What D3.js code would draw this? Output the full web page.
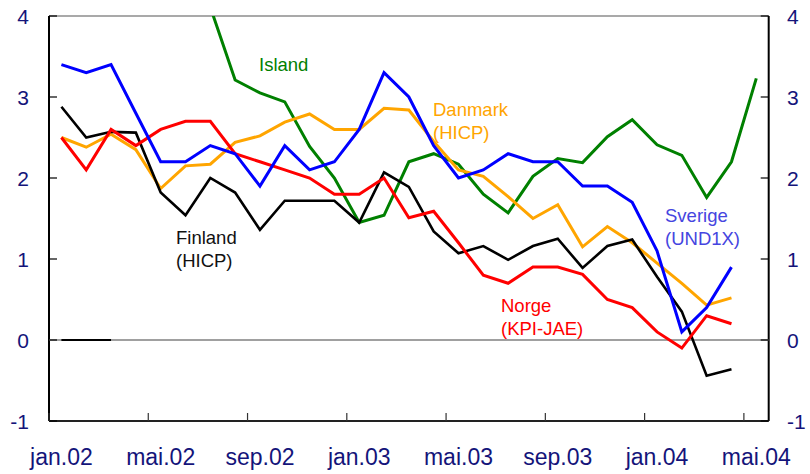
<!DOCTYPE html>
<html>
<head>
<meta charset="utf-8">
<script src="https://cdn.jsdelivr.net/npm/d3@7"></script>
<style>
  body { margin: 0; background: #fff; }
  svg { display: block; }
  text { font-family: "Liberation Sans", Arial, sans-serif; }
</style>
</head>
<body>
<div id="chart"></div>
<script>
// months, jan.02 .. mai.04
var months = ["jan.02","feb.02","mar.02","apr.02","mai.02","jun.02","jul.02","aug.02","sep.02","okt.02","nov.02","des.02",
  "jan.03","feb.03","mar.03","apr.03","mai.03","jun.03","jul.03","aug.03","sep.03","okt.03","nov.03","des.03",
  "jan.04","feb.04","mar.04","apr.04","mai.04"];
var tickMonths = ["jan.02","mai.02","sep.02","jan.03","mai.03","sep.03","jan.04","mai.04"];
var yTicks = [-1, 0, 1, 2, 3, 4];

var sverige = [3.4,3.3,3.4,2.8,2.2,2.2,2.4,2.3,1.9,2.4,2.1,2.2,2.6,3.3,3.0,2.4,2.0,2.1,2.3,2.2,2.2,1.9,1.9,1.7,1.1,0.1,0.4,0.9];
var danmark = [2.5,2.38,2.54,2.35,1.87,2.15,2.17,2.44,2.52,2.69,2.79,2.6,2.6,2.86,2.84,2.45,2.1,2.02,1.77,1.5,1.67,1.15,1.4,1.2,0.95,0.7,0.43,0.52];
var finland = [2.88,2.5,2.57,2.56,1.82,1.54,2.0,1.82,1.36,1.72,1.72,1.72,1.45,2.07,1.89,1.34,1.07,1.16,0.99,1.16,1.25,0.89,1.16,1.24,0.78,0.35,-0.44,-0.36];
var norge = [2.5,2.1,2.6,2.4,2.6,2.7,2.7,2.3,2.2,2.1,2.0,1.8,1.8,2.0,1.51,1.59,1.2,0.8,0.7,0.9,0.9,0.81,0.5,0.4,0.1,-0.1,0.3,0.2];
var island = [null,null,null,null,null,null,4.11,3.21,3.05,2.94,2.39,2.0,1.45,1.54,2.2,2.3,2.17,1.8,1.57,2.02,2.24,2.19,2.51,2.72,2.41,2.28,1.76,2.2,3.23];
var zeroMarks = [0,0,0];

var width = 810, height = 474;
var mLeft = 49, mRight = 768.7, mTop = 16, mBottom = 421;
var navy = "#14147a";

var svg = d3.select("#chart").append("svg")
  .attr("width", width)
  .attr("height", height);

var x = d3.scaleBand().domain(months).range([mLeft, mRight]).padding(0);
var y = d3.scaleLinear().domain([-1, 4]).range([mBottom, mTop]);
var xc = function(m){ return x(m) + x.bandwidth() / 2; };

svg.append("defs").append("clipPath").attr("id", "plotClip")
  .append("rect").attr("x", mLeft).attr("y", mTop)
  .attr("width", mRight - mLeft).attr("height", mBottom - mTop);

// frame
svg.append("line").attr("x1", mLeft).attr("x2", mRight).attr("y1", mTop).attr("y2", mTop)
  .attr("stroke", "#555").attr("stroke-width", 1.2);
svg.append("line").attr("x1", mLeft).attr("x2", mLeft).attr("y1", mTop).attr("y2", mBottom)
  .attr("stroke", "#000").attr("stroke-width", 2);
svg.append("line").attr("x1", mRight).attr("x2", mRight).attr("y1", mTop).attr("y2", mBottom)
  .attr("stroke", "#000").attr("stroke-width", 2);
svg.append("line").attr("x1", mLeft).attr("x2", mRight).attr("y1", mBottom).attr("y2", mBottom)
  .attr("stroke", "#222").attr("stroke-width", 2);

// zero line
svg.append("line").attr("x1", mLeft).attr("x2", mRight).attr("y1", y(0)).attr("y2", y(0))
  .attr("stroke", "#808080").attr("stroke-width", 1.5);

// y ticks both sides
svg.selectAll(".ytl").data(yTicks).enter().append("line")
  .attr("x1", mLeft).attr("x2", mLeft + 8)
  .attr("y1", function(d){ return y(d); }).attr("y2", function(d){ return y(d); })
  .attr("stroke", "#000").attr("stroke-width", 1.2);
svg.selectAll(".ytr").data(yTicks).enter().append("line")
  .attr("x1", mRight - 8).attr("x2", mRight)
  .attr("y1", function(d){ return y(d); }).attr("y2", function(d){ return y(d); })
  .attr("stroke", "#000").attr("stroke-width", 1.2);

svg.selectAll(".yl").data(yTicks).enter().append("text")
  .attr("x", 29).attr("y", function(d){ return y(d); })
  .attr("dy", "0.36em").attr("text-anchor", "end")
  .attr("font-size", 21).attr("fill", navy)
  .text(function(d){ return d; });
svg.selectAll(".yr").data(yTicks).enter().append("text")
  .attr("x", 787).attr("y", function(d){ return y(d); })
  .attr("dy", "0.36em").attr("text-anchor", "start")
  .attr("font-size", 21).attr("fill", navy)
  .text(function(d){ return d; });

// x ticks at band starts, labels at band centres
svg.selectAll(".xt").data(tickMonths).enter().append("line")
  .attr("x1", function(d){ return x(d); }).attr("x2", function(d){ return x(d); })
  .attr("y1", mBottom - 8).attr("y2", mBottom)
  .attr("stroke", "#333").attr("stroke-width", 1.2);
svg.selectAll(".xl").data(tickMonths).enter().append("text")
  .attr("x", function(d){ return xc(d); }).attr("y", 465)
  .attr("text-anchor", "middle")
  .attr("font-size", 23).attr("fill", navy)
  .text(function(d){ return d; });

// series
var line = d3.line()
  .defined(function(d){ return d != null; })
  .x(function(d, i){ return xc(months[i]); })
  .y(function(d){ return y(d); });

var series = [
  {values: zeroMarks, color: "#000", w: 2},
  {values: island, color: "#008000", w: 3},
  {values: danmark, color: "#FFA500", w: 3},
  {values: finland, color: "#000", w: 2.6},
  {values: norge, color: "#FF0000", w: 3},
  {values: sverige, color: "#0000FF", w: 3}
];

svg.append("g").attr("clip-path", "url(#plotClip)")
  .selectAll("path").data(series).enter().append("path")
  .attr("d", function(s){ return line(s.values); })
  .attr("fill", "none")
  .attr("stroke", function(s){ return s.color; })
  .attr("stroke-width", function(s){ return s.w; })
  .attr("stroke-linejoin", "miter");

// labels
var labels = [
  {lines: ["Island"], x: 259, y: 71, color: "#008000"},
  {lines: ["Danmark", "(HICP)"], x: 433, y: 116, color: "#FFA500"},
  {lines: ["Finland", "(HICP)"], x: 176, y: 244, color: "#111"},
  {lines: ["Norge", "(KPI-JAE)"], x: 501, y: 312, color: "#FF0000"},
  {lines: ["Sverige", "(UND1X)"], x: 665, y: 222, color: "#4545E0"}
];
labels.forEach(function(l){
  var t = svg.append("text")
    .attr("x", l.x).attr("y", l.y)
    .attr("font-size", 18.5).attr("fill", l.color);
  l.lines.forEach(function(s, i){
    t.append("tspan").attr("x", l.x).attr("dy", i === 0 ? 0 : 23).text(s);
  });
});
</script>
</body>
</html>
